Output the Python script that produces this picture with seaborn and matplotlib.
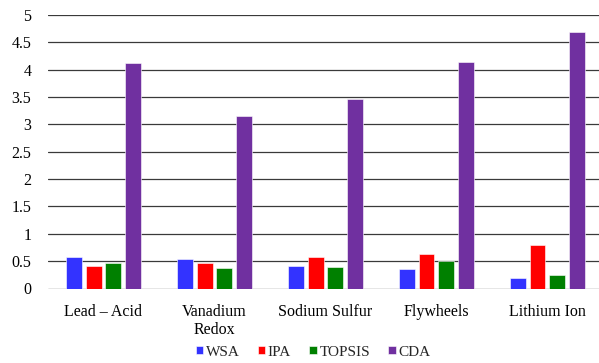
import matplotlib
matplotlib.use("Agg")
import matplotlib.pyplot as plt
import seaborn as sns
import pandas as pd

# Storage technologies and the score each method gives them
technologies = ["Lead – Acid", "Vanadium\nRedox", "Sodium Sulfur", "Flywheels", "Lithium Ion"]
methods = ["WSA", "IPA", "TOPSIS", "CDA"]
wsa = [0.57, 0.54, 0.42, 0.36, 0.20]
ipa = [0.42, 0.46, 0.58, 0.63, 0.80]
topsis = [0.47, 0.37, 0.40, 0.51, 0.25]
cda = [4.13, 3.16, 3.46, 4.14, 4.69]
y_ticks = [0, 0.5, 1, 1.5, 2, 2.5, 3, 3.5, 4, 4.5, 5]
y_tick_labels = ["0", "0.5", "1", "1.5", "2", "2.5", "3", "3.5", "4", "4.5", "5"]

colors = ["#3333FF", "#FF0000", "#008000", "#7030A0"]

rows = []
for method, values in zip(methods, [wsa, ipa, topsis, cda]):
    for tech, v in zip(technologies, values):
        rows.append({"Technology": tech, "Method": method, "Score": v})
df = pd.DataFrame(rows)

sns.set_style("white")
plt.rcParams["font.family"] = ["Liberation Serif", "DejaVu Serif"]

fig = plt.figure(figsize=(5.99, 3.63), dpi=100)
ax = fig.add_axes([48 / 599, 1 - 288.5 / 363, 551 / 599, (288.5 - 15) / 363])

sns.barplot(data=df, x="Technology", y="Score", hue="Method",
            order=technologies, hue_order=methods, palette=colors,
            width=0.72, gap=0.2, saturation=1, ax=ax,
            edgecolor="white", linewidth=0.4, legend=True)

ax.set_ylim(0, 5)
ax.set_xlim(-0.5, 4.464)
ax.set_yticks(y_ticks)
ax.set_yticklabels(y_tick_labels)
ax.set_xlabel("")
ax.set_ylabel("")
ax.yaxis.grid(True, color="#3a3a3a", linewidth=0.9)
ax.set_axisbelow(True)
for s in ax.spines.values():
    s.set_visible(False)
ax.tick_params(axis="both", length=0, labelsize=11.5, colors="#000000")
ax.tick_params(axis="y", pad=12)
ax.tick_params(axis="x", pad=11)

handles, labels = ax.get_legend_handles_labels()
ax.get_legend().remove()
fig.legend(handles, labels, loc="center", bbox_to_anchor=(313 / 599, 1 - 352 / 363),
           ncol=4, frameon=False, fontsize=11, handlelength=0.5, handleheight=0.5,
           handletextpad=0.15, columnspacing=1.2, borderaxespad=0)

fig.savefig("out.png", dpi=100)
